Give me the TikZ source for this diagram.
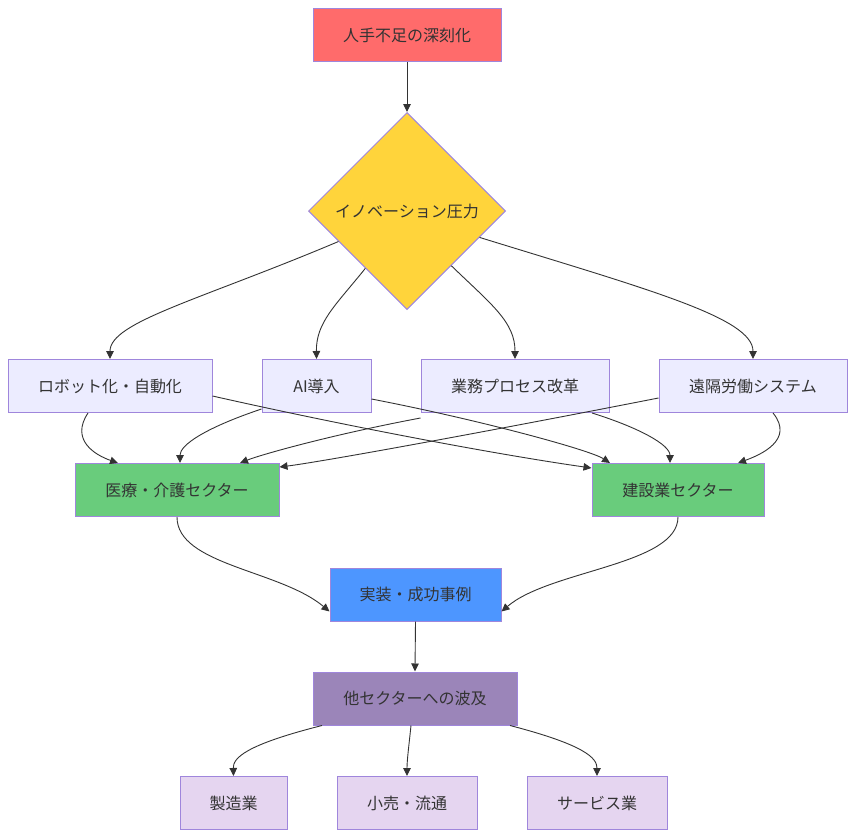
\documentclass[tikz,border=0pt]{standalone}
\usepackage{fontspec}
\newfontfamily\jp{Noto Sans CJK JP}
\usetikzlibrary{shapes.geometric,arrows.meta}
\definecolor{edgec}{HTML}{333333}
\definecolor{strokec}{HTML}{9F86DC}
\definecolor{redf}{HTML}{FF6B6B}
\definecolor{goldf}{HTML}{FFD43B}
\definecolor{lavf}{HTML}{ECECFF}
\definecolor{greenf}{HTML}{69CC7C}
\definecolor{bluef}{HTML}{4D96FF}
\definecolor{purf}{HTML}{9B85B9}
\definecolor{lilacf}{HTML}{E5D5F0}
\begin{document}
\begin{tikzpicture}[x=1pt,y=-1pt,
  every node/.style={font=\jp\fontsize{16}{19}\selectfont, text=edgec},
  box/.style={draw=strokec, line width=1pt, rectangle, inner sep=0pt, minimum height=53pt},
  conn/.style={draw=edgec, line width=0.9pt, -{Triangle[length=8pt,width=7.5pt]}}]
\useasboundingbox (0,0) rectangle (855,838);
% nodes
\node[box, fill=redf, minimum width=188pt] (top) at (407,35) {人手不足の深刻化};
\node[diamond, draw=strokec, line width=1pt, fill=goldf, inner sep=0pt, minimum width=197pt, minimum height=197pt] (dia) at (407,211) {イノベーション圧力};
\node[box, fill=lavf, minimum width=204pt] (robot) at (110,386) {ロボット化・自動化};
\node[box, fill=lavf, minimum width=109pt] (ai) at (316.5,386) {AI導入};
\node[box, fill=lavf, minimum width=188pt] (bpr) at (515,386) {業務プロセス改革};
\node[box, fill=lavf, minimum width=188pt] (remote) at (753,386) {遠隔労働システム};
\node[box, fill=greenf, minimum width=204pt] (med) at (177,490) {医療・介護セクター};
\node[box, fill=greenf, minimum width=172pt] (con) at (678,490) {建設業セクター};
\node[box, fill=bluef, minimum width=171pt] (impl) at (415.5,594.5) {実装・成功事例};
\node[box, fill=purf, minimum width=204pt] (spread) at (415,698.5) {他セクターへの波及};
\node[box, fill=lilacf, minimum width=107pt] (mfg) at (233.5,803) {製造業};
\node[box, fill=lilacf, minimum width=140pt] (retail) at (407,803) {小売・流通};
\node[box, fill=lilacf, minimum width=140pt] (serv) at (597,803) {サービス業};
% connectors
\draw[conn] (top.south) -- (dia.north);
\draw[conn] (dia.204) .. controls (200,300) and (110,322) .. (robot.north);
\draw[conn] (dia.234) .. controls (336,305) and (316,322) .. (ai.north);
\draw[conn] (dia.309) .. controls (492,305) and (515,322) .. (bpr.north);
\draw[conn] (dia.340) .. controls (650,290) and (753,318) .. (remote.north);
% to medical
\draw[conn] ([xshift=-22pt]robot.south) .. controls (70,440) and (95,455) .. ([xshift=-59pt]med.north);
\draw[conn] (ai.south west) ++(0,-4) .. controls (205,428) and (180,445) .. ([xshift=3pt]med.north);
\draw[conn] ([yshift=-5pt]bpr.south west) .. controls (330,435) and (260,455) .. ([xshift=63pt]med.north);
\draw[conn] ([yshift=-12pt]remote.west) .. controls (480,433) and (320,462) .. ([yshift=-4pt]med.north east);
% to construction
\draw[conn] ([yshift=-10pt]robot.east) .. controls (350,427) and (500,455) .. ([yshift=-5pt]con.north west);
\draw[conn] ([yshift=-13pt]ai.east) .. controls (480,420) and (590,450) .. ([xshift=-68pt]con.north);
\draw[conn] ([xshift=77pt]bpr.south) .. controls (640,428) and (670,445) .. ([xshift=-8pt]con.north);
\draw[conn] ([xshift=20pt]remote.south) .. controls (795,440) and (760,455) .. ([xshift=60pt]con.north);
% to implementation
\draw[conn] (med.south) .. controls (177,565) and (280,570) .. ([yshift=-17pt]impl.west);
\draw[conn] (con.south) .. controls (678,565) and (550,570) .. ([yshift=-17pt]impl.east);
\draw[conn] (impl.south) -- (spread.north);
% to sectors
\draw[conn] ([xshift=-93pt]spread.south) .. controls (245,745) and (233,758) .. (mfg.north);
\draw[conn] ([xshift=-4pt]spread.south) .. controls (409,745) and (407,760) .. (retail.north);
\draw[conn] ([xshift=95pt]spread.south) .. controls (585,745) and (597,758) .. (serv.north);
\end{tikzpicture}
\end{document}
